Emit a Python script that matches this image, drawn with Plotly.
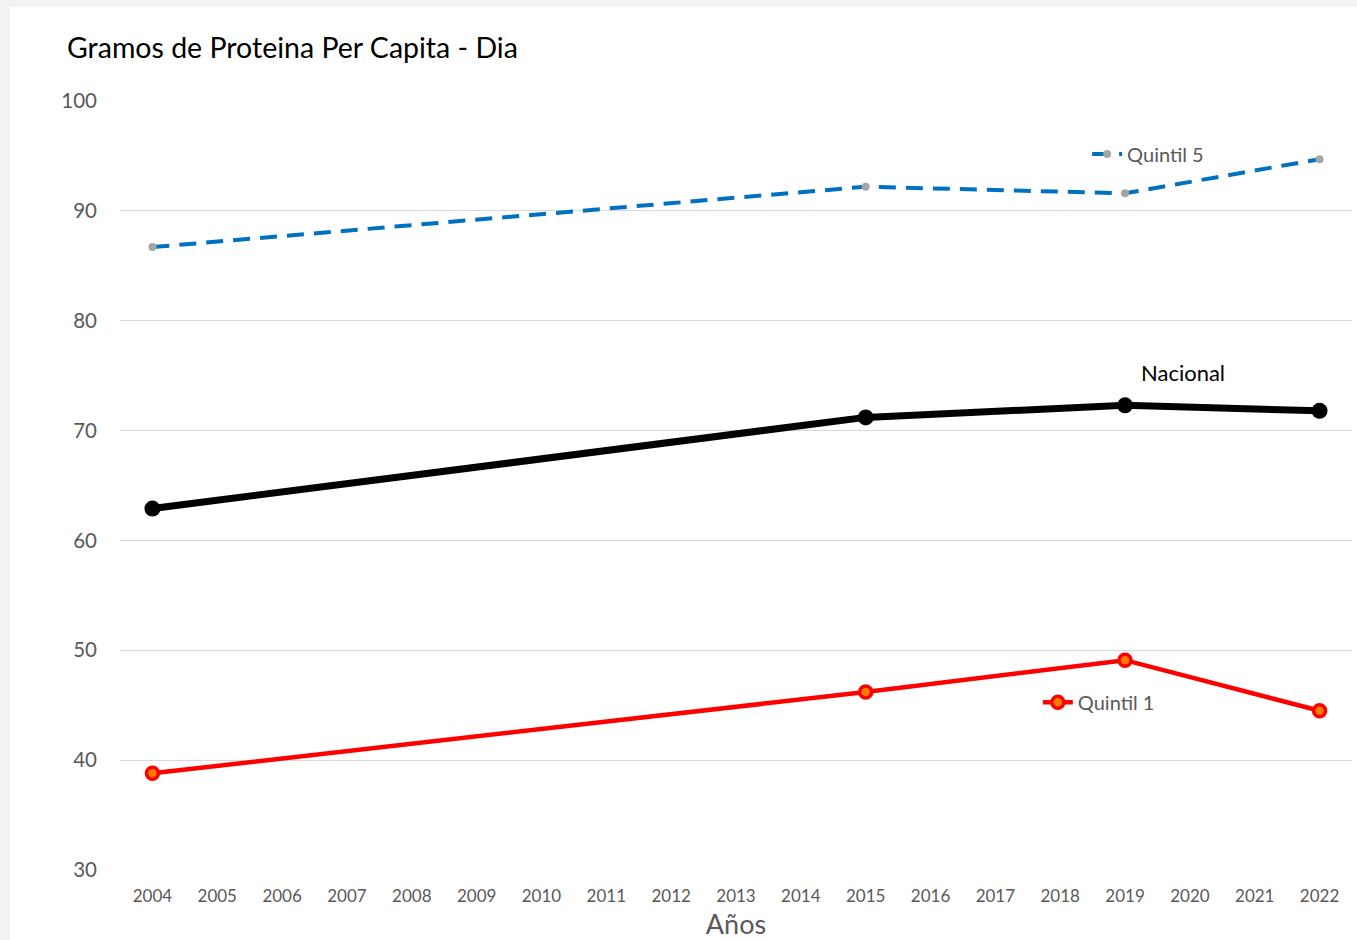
import plotly.graph_objects as go

# ---------------------------------------------------------------------------
# Data
# ---------------------------------------------------------------------------
years = [2004, 2015, 2019, 2022]
quintil_5 = [86.7, 92.2, 91.6, 94.7]
nacional = [62.9, 71.2, 72.3, 71.8]
quintil_1 = [38.8, 46.2, 49.1, 44.5]

tick_years = list(range(2004, 2023))
y_ticks = [30, 40, 50, 60, 70, 80, 90, 100]

FONT = "Lato, Open Sans, sans-serif"
GREY_TXT = "#595959"

W, H = 1357, 940

# ---------------------------------------------------------------------------
# Figure
# ---------------------------------------------------------------------------
fig = go.Figure()

fig.add_trace(go.Scatter(
    x=years, y=quintil_5, name="Quintil 5", mode="lines+markers",
    line=dict(color="#0070C0", width=4, dash="17px,10px"),
    marker=dict(color="#A5A5A5", size=8),
    legend="legend",
))
fig.add_trace(go.Scatter(
    x=years, y=nacional, name="Nacional", mode="lines+markers",
    line=dict(color="#000000", width=7),
    marker=dict(color="#000000", size=16),
    showlegend=False,
))
fig.add_trace(go.Scatter(
    x=years, y=quintil_1, name="Quintil 1", mode="lines+markers",
    line=dict(color="#FF0000", width=4.5),
    marker=dict(color="#FF7A00", size=12, line=dict(color="#FF0000", width=3.5)),
    legend="legend2",
))

# white chart area on a light grey page
fig.add_shape(
    type="rect", xref="paper", yref="paper", layer="below",
    x0=-0.0893, x1=1.1, y0=-0.2, y1=1.1222,
    fillcolor="white", line=dict(width=0),
)

fig.add_annotation(
    x=2019.9, y=nacional[2] + 3.0, xref="x", yref="y",
    text="Nacional", showarrow=False,
    font=dict(family=FONT, size=22, color="#000000"),
)

legend_style = dict(
    bgcolor="rgba(0,0,0,0)", borderwidth=0,
    font=dict(family=FONT, size=20, color=GREY_TXT),
    itemwidth=30, xanchor="left", yanchor="middle",
    tracegroupgap=0,
)

fig.update_layout(
    width=W, height=H,
    paper_bgcolor="#F2F2F2",
    plot_bgcolor="white",
    margin=dict(l=120, r=5, t=101, b=70),
    title=dict(
        text="Gramos de Proteina Per Capita - Dia",
        x=67 / W, xanchor="left", xref="container",
        y=1 - 48 / H, yanchor="middle", yref="container",
        font=dict(family=FONT, size=28.5, color="#000000"),
    ),
    legend=dict(x=0.785, y=0.931, **legend_style),
    legend2=dict(x=0.745, y=0.218, **legend_style),
    xaxis=dict(
        range=[2003.5, 2022.5],
        tickmode="array", tickvals=tick_years,
        ticktext=[str(y) for y in tick_years],
        showgrid=False, zeroline=False,
        showline=False, ticks="",
        ticklabelstandoff=14,
        tickfont=dict(family=FONT, size=17, color=GREY_TXT),
        automargin=False,
        title=dict(
            text="Años", standoff=12,
            font=dict(family=FONT, size=27, color=GREY_TXT),
        ),
    ),
    yaxis=dict(
        range=[30, 100],
        tickmode="array", tickvals=y_ticks,
        showgrid=True, gridcolor="#D9D9D9", gridwidth=1.3,
        zeroline=False, showline=False, ticks="",
        ticklabelstandoff=22,
        tickfont=dict(family=FONT, size=20.5, color=GREY_TXT),
    ),
)

fig.write_html(
    "out.html",
    config={"displayModeBar": False},
    post_script=(
        "document.body.style.margin='0';"
        "document.body.style.overflow='hidden';"
        "document.body.style.background='#F2F2F2';"
    ),
)
